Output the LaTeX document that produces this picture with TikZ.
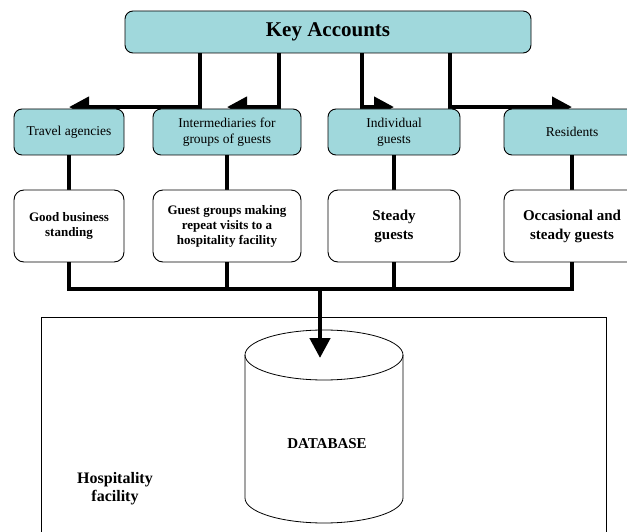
\documentclass[tikz,border=0pt]{standalone}
\usepackage{fontspec}
\setmainfont{Liberation Serif}
\usetikzlibrary{arrows.meta,backgrounds}
\definecolor{acctteal}{RGB}{160,216,220}

\begin{document}
\begin{tikzpicture}[x=1pt, y=-1pt,
  accbox/.style={draw, fill=acctteal, rounded corners=8pt, line width=0.9pt, align=center, inner sep=0pt},
  groupbox/.style={accbox, minimum height=46pt, font=\fontsize{13.5}{16}\selectfont},
  guestbox/.style={draw, fill=white, rounded corners=10pt, line width=0.9pt, minimum height=72pt, align=center, inner sep=0pt, font=\bfseries\fontsize{13}{15}\selectfont},
  bigguest/.style={guestbox, font=\bfseries\fontsize{15}{19}\selectfont},
  link/.style={line width=4.5pt},
  linkarrow/.style={link, -{Triangle[length=20pt, width=20pt]}}]
\useasboundingbox (0,0) rectangle (627,532);

% Key accounts
\node[accbox, minimum width=406pt, minimum height=42pt, font=\bfseries\fontsize{21}{24}\selectfont] (key) at (328,32) {Key Accounts};

% Account groups
\node[groupbox, minimum width=110pt] (travel) at (69,132) {Travel agencies};
\node[groupbox, minimum width=148pt] (inter) at (227,132) {Intermediaries for\\groups of guests};
\node[groupbox, minimum width=132pt] (indiv) at (394,132) {Individual\\guests};
\node[groupbox, minimum width=136pt] (resid) at (572,132) {Residents};

% Guests
\node[guestbox, minimum width=110pt] (good) at (69,226) {Good business\\standing};
\node[guestbox, minimum width=148pt] (groups) at (227,226) {Guest groups making\\repeat visits to a\\hospitality facility};
\node[bigguest, minimum width=132pt] (steady) at (394,226) {Steady\\guests};
\node[bigguest, minimum width=136pt] (occas) at (572,226) {Occasional and\\steady guests};

% Links behind the boxes
\begin{scope}[on background layer]
\draw[linkarrow] ([xshift=-128pt]key.south) |- ([yshift=1.5pt]travel.north);
\draw[linkarrow] ([xshift=-49pt]key.south) |- ([yshift=1.5pt]inter.north);
\draw[linkarrow] ([xshift=34pt]key.south) |- ([yshift=1.5pt]indiv.north);
\draw[linkarrow] ([xshift=122pt]key.south) |- ([yshift=1.5pt]resid.north);
\draw[link] (travel) -- (good);
\draw[link] (inter) -- (groups);
\draw[link] (indiv) -- (steady);
\draw[link] (resid) -- (occas);
\end{scope}

% Collecting line
\coordinate (bus) at (320,289);
\draw[link] (good.south) |- (occas.south |- bus) -- (occas.south);
\draw[link] (groups.south) -- (groups.south |- bus);
\draw[link] (steady.south) -- (steady.south |- bus);

% Hospitality facility
\draw[line width=0.8pt] (41,532) |- (606,317) -- (606,532);
\node[font=\bfseries\fontsize{16}{18}\selectfont, align=center] (hosp) at (115,489) {Hospitality\\facility};

% Database
\draw[line width=0.8pt] (324,355) ellipse [x radius=79, y radius=25];
\draw[line width=0.8pt] (245,355) -- (245,498) arc[start angle=180, end angle=0, x radius=79, y radius=25] -- (403,355);
\node[font=\bfseries\fontsize{15}{18}\selectfont] (db) at (327,444) {DATABASE};
\coordinate (dbtop) at (320,358);
\draw[linkarrow] (bus) -- (dbtop);
\end{tikzpicture}
\end{document}
